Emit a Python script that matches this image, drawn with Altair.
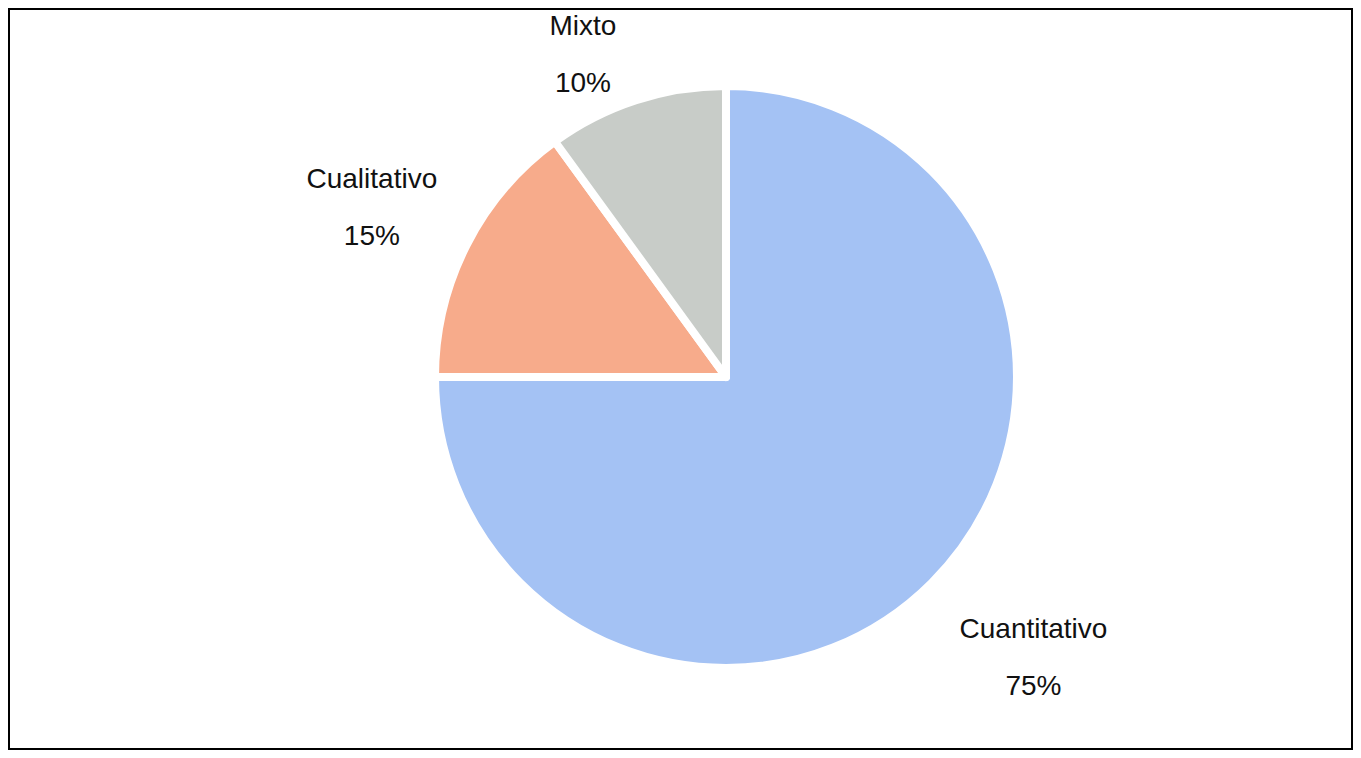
import altair as alt
import pandas as pd

categories = ["Cuantitativo", "Cualitativo", "Mixto"]
values = [75, 15, 10]
labels = ["75%", "15%", "10%"]
colors = ["#a4c2f4", "#f7ab8b", "#c8ccc8"]

df = pd.DataFrame({
    "cat": categories,
    "val": values,
    "lab": labels,
    "order": [0, 1, 2],
})
df["text"] = [[c, l] for c, l in zip(categories, labels)]

CX, CY = 717, 368

base = alt.Chart(df).encode(
    theta=alt.Theta("val:Q", stack=True),
    order=alt.Order("order:Q"),
)

pie = base.mark_arc(outerRadius=291, stroke="white", strokeWidth=8, strokeJoin="round").encode(
    color=alt.Color("cat:N", scale=alt.Scale(domain=categories, range=colors), legend=None),
    x=alt.value(CX),
    y=alt.value(CY),
)

def lab(cat, r, dx, dy):
    return base.mark_text(
        radius=r, dx=dx, dy=dy, font="Liberation Sans", fontSize=28,
        lineHeight=57, color="#111111", baseline="middle", align="center",
    ).encode(
        text="text",
        x=alt.value(CX), y=alt.value(CY),
        opacity=alt.condition(alt.datum.cat == cat, alt.value(1), alt.value(0)),
    )

chart = alt.layer(
    pie,
    lab("Cuantitativo", 415, 14, -40),
    lab("Cualitativo", 393, -4, -19),
    lab("Mixto", 340, -38, -27),
).properties(
    width=1343, height=740, padding=1,
    autosize=alt.AutoSizeParams(type="none"),
).configure(background="white").configure_view(
    stroke="black", strokeWidth=2
)

chart.save("out.html", embed_options={"renderer": "svg", "actions": False})
